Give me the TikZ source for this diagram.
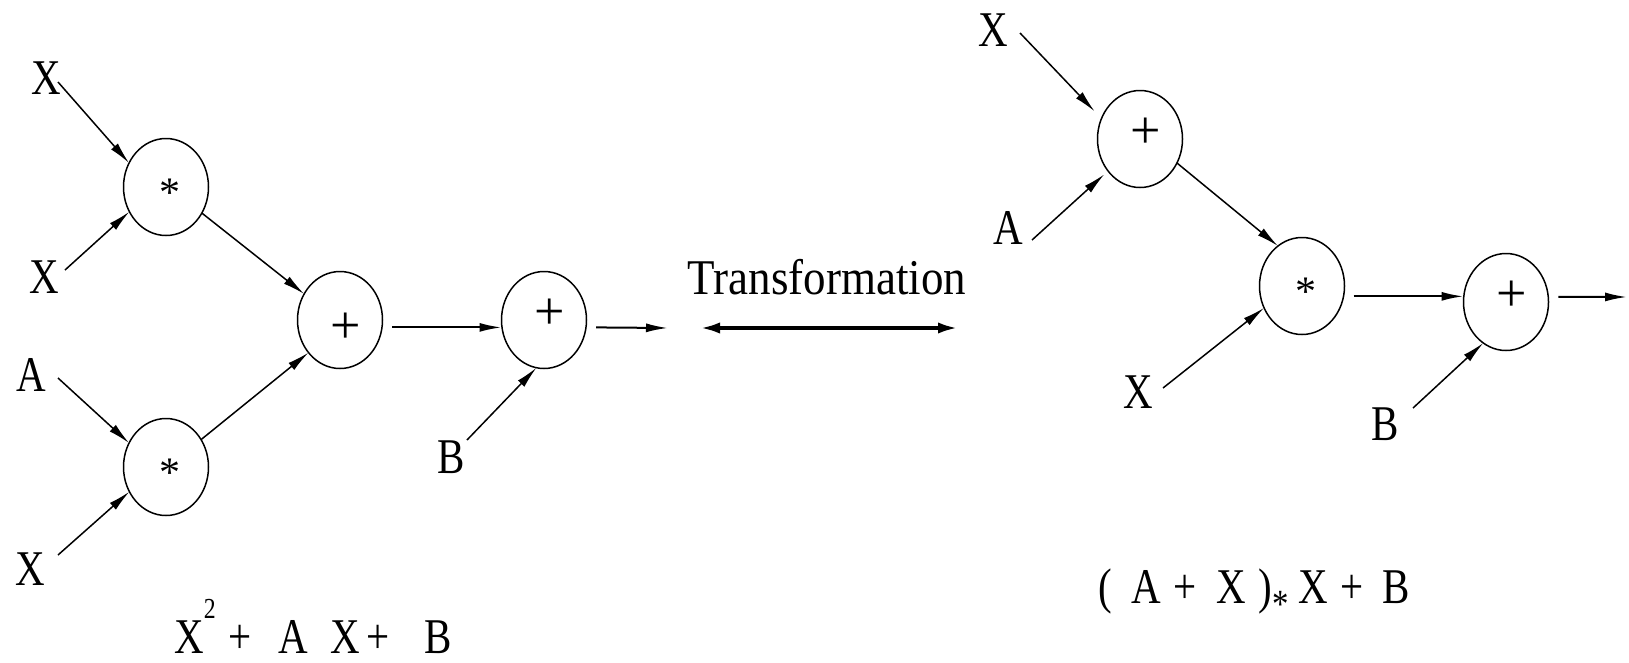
\documentclass[tikz,border=0pt]{standalone}
\usepackage{graphicx}
\usepackage{fontspec}
\setmainfont{Liberation Serif}
\newfontfamily\serfont{Liberation Serif}
\usetikzlibrary{arrows.meta,shapes.geometric}

\newcommand\cond[1]{\scalebox{0.82}[1]{#1}}
\newcommand\plusop[1][-5pt]{{\serfont\fontsize{54}{54}\selectfont\hspace*{12pt}\smash{\raisebox{\dimexpr-0.27em-#1\relax}{+}}}}
\newcommand\timesop{{\serfont\fontsize{42}{42}\selectfont\hspace*{8pt}\smash{\raisebox{-0.47em}{*}}}}

\tikzset{
  op/.style={ellipse, draw, line width=1.5pt, minimum width=85pt, minimum height=97pt, inner sep=0pt, outer sep=0pt},
  lab/.style={inner sep=0pt, font=\serfont\fontsize{50}{60}\selectfont},
  arr/.style={line width=1.5pt, -{Latex[length=22pt,width=9pt]}},
  harr/.style={line width=2pt, -{Latex[length=22pt,width=9pt]}},
  dbl/.style={line width=4.5pt, {Latex[length=22pt,width=11pt]}-{Latex[length=22pt,width=11pt]}},
}

\begin{document}
\begin{tikzpicture}[x=1pt,y=-1pt]
\fill[white] (0,0) rectangle (1629,662);
\useasboundingbox (0,0) rectangle (1629,662);

% ---------- left graph: X^2 + AX + B ----------
\node[op] (m1) at (166,187) {\timesop};
\node[op] (m2) at (166,467) {\timesop};
\node[op] (p1) at (340,320) {\plusop[9pt]};
\node[op] (p2) at (544,320) {\plusop};

\node[lab] (x1) at (46,78) {\cond{X}};
\node[lab] (x2) at (44,277) {\cond{X}};
\node[lab] (a1) at (31,375) {\cond{A}};
\node[lab] (x3) at (30,569) {\cond{X}};
\node[lab] (b1) at (451,457) {\cond{B}};

\draw[arr] ([shift={(12,4)}]x1.center) -- (m1.147);
\draw[arr] ([shift={(21,-7)}]x2.center) -- (m1.214);
\draw[arr] ([shift={(27,3)}]a1.center) -- (m2.147);
\draw[arr] ([shift={(28,-14)}]x3.center) -- (m2.214);
\draw[arr] (m1.-36) -- (p1.144);
\draw[arr] (m2.38) -- (p1.226);
\draw[harr] ([shift={(10,0)}]p1.-10) -- (p1.-10 -| p2.west);
\draw[arr] ([shift={(16,-17)}]b1.center) -- (p2.261);
\coordinate (o1) at (668,328);
\draw[harr] ([shift={(10,0)}]p2.-10) -- (o1);

\node[lab, anchor=base] (f1) at (313,653) {\cond{X\raisebox{35pt}{\fontsize{29}{29}\selectfont 2}\hspace{16pt}+\hspace{33pt}A\hspace{27pt}X\hspace{7pt}+\hspace{43pt}B}};

% ---------- transformation ----------
\node[inner sep=0pt, font=\serfont\fontsize{50}{60}\selectfont] (tr) at (827,277) {\scalebox{0.9}[1]{Transformation}};
\coordinate (t1) at (698,328);
\coordinate (t2) at (960,328);
\draw[dbl] (t1) -- (t2);

% ---------- right graph: (A+X)*X + B ----------
\node[op] (q1) at (1140,139) {\plusop};
\node[op] (r1) at (1302,286) {\timesop};
\node[op] (q2) at (1506,302) {\plusop};

\node[lab] (x4) at (993,30) {\cond{X}};
\node[lab] (a2) at (1008,228) {\cond{A}};
\node[lab] (x5) at (1138,392) {\cond{X}};
\node[lab] (b2) at (1385,424) {\cond{B}};

\draw[arr, shorten >=10pt] ([shift={(27,3)}]x4.center) -- (q1.152);
\draw[arr, shorten >=5pt] ([shift={(24,12)}]a2.center) -- (q1.225);
\draw[arr] (q1.-33) -- (r1.121);
\draw[arr] ([shift={(25,-4)}]x5.center) -- (r1.210);
\draw[harr] ([shift={(10,0)}]r1.-14) -- (r1.-14 -| q2.west);
\draw[arr] ([shift={(28,-16)}]b2.center) -- (q2.241);
\coordinate (o2) at (1627,297);
\draw[harr] ([shift={(10,0)}]q2.7) -- (o2);

\node[lab, anchor=base] (f2) at (1254,603) {\cond{(\hspace{24pt}A\hspace{15pt}+\hspace{24pt}X\hspace{15pt})\raisebox{-14pt}{\fontsize{40}{40}\selectfont *}\hspace{12pt}X\hspace{15pt}+\hspace{23pt}B}};
\end{tikzpicture}
\end{document}
